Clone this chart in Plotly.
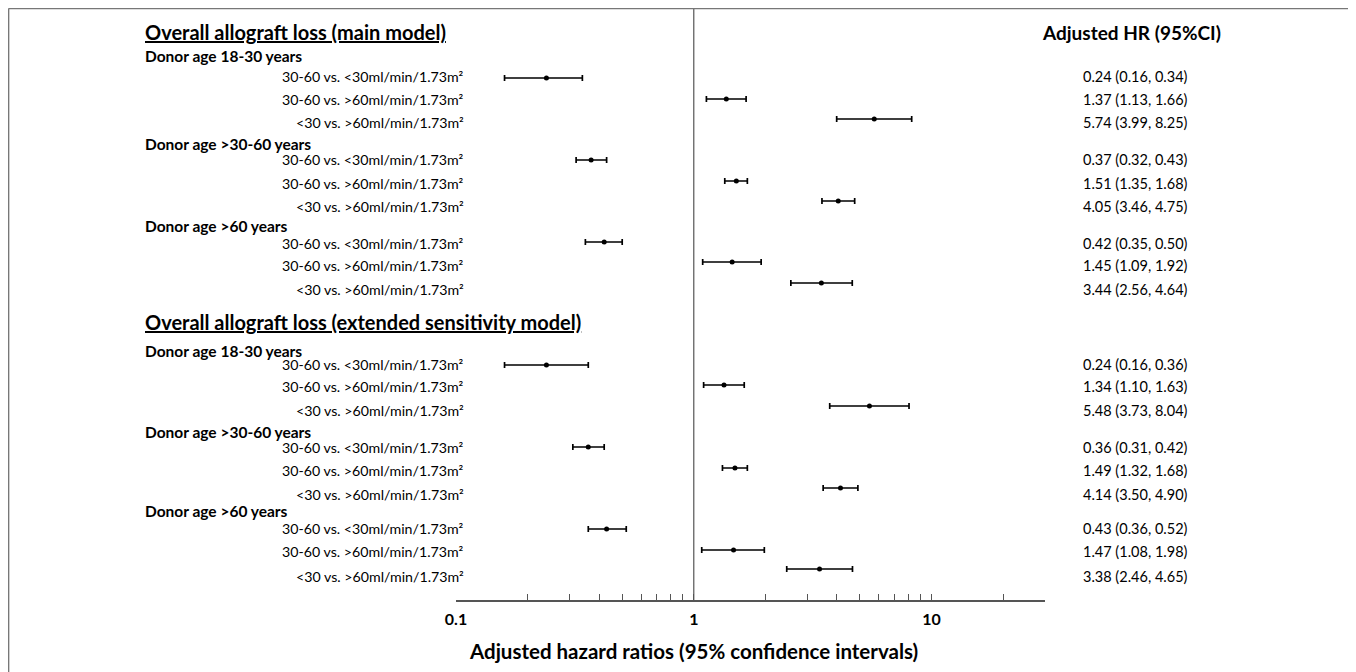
import plotly.graph_objects as go

# ---------------- data ----------------
section_titles = ["Overall allograft loss (main model)",
                  "Overall allograft loss (extended sensitivity model)"]
group_names = ["Donor age 18-30 years", "Donor age >30-60 years", "Donor age >60 years"]
comparisons = ["30-60 vs. <30ml/min/1.73m²",
               "30-60 vs. >60ml/min/1.73m²",
               "<30 vs. >60ml/min/1.73m²"]

main_hr = [0.24, 1.37, 5.74, 0.37, 1.51, 4.05, 0.42, 1.45, 3.44]
main_lo = [0.16, 1.13, 3.99, 0.32, 1.35, 3.46, 0.35, 1.09, 2.56]
main_hi = [0.34, 1.66, 8.25, 0.43, 1.68, 4.75, 0.50, 1.92, 4.64]

ext_hr = [0.24, 1.34, 5.48, 0.36, 1.49, 4.14, 0.43, 1.47, 3.38]
ext_lo = [0.16, 1.10, 3.73, 0.31, 1.32, 3.50, 0.36, 1.08, 2.46]
ext_hi = [0.36, 1.63, 8.04, 0.42, 1.68, 4.90, 0.52, 1.98, 4.65]

tick_values = [0.1, 0.2, 0.3, 0.4, 0.5, 0.6, 0.7, 0.8, 0.9,
               1, 2, 3, 4, 5, 6, 7, 8, 9, 10, 20, 30]
tick_labels = {0.1: "0.1", 1: "1", 10: "10"}
x_title = "Adjusted hazard ratios (95% confidence intervals)"
col_title = "Adjusted HR (95%CI)"

# ---------------- layout (vertical slots, in screen rows of the page) ----------------
marker_y = [78, 99, 119, 160, 181, 201, 242, 262, 283,
            365, 385, 406, 447, 468, 488, 529, 550, 569]
text_y = [76, 99, 122, 159, 183, 206, 243, 265, 289,
          364, 386, 410, 447, 470, 494, 528, 551, 576]
group_y = [56, 144, 226, 351, 432, 511]
header_y = [32, 322]

OFF = 8                      # page body margin
W, H = 1356 - OFF, 672 - OFF
L, R, T, B = 456, 1045, 8, 600   # plot area in page pixels
pw, ph = R - L, B - T


def px(xpix):
    return (xpix - L) / pw


def py(ypix):
    return (B - ypix) / ph


FONT = "Lato"
hr = main_hr + ext_hr
lo = main_lo + ext_lo
hi = main_hi + ext_hi

fig = go.Figure()
fig.add_trace(go.Scatter(
    x=hr, y=marker_y, mode="markers",
    marker=dict(color="black", size=5),
    error_x=dict(type="data", symmetric=False,
                 array=[h - m for h, m in zip(hi, hr)],
                 arrayminus=[m - l for m, l in zip(hr, lo)],
                 color="black", thickness=1.7, width=3),
    showlegend=False, hoverinfo="skip"))

ann = []
for t, yy in zip(section_titles, header_y):
    ann.append(dict(text=f"<b><u>{t}</u></b>", x=px(143), y=yy, xref="paper", yref="y",
                    xanchor="left", yanchor="middle", showarrow=False,
                    font=dict(family=FONT, size=20, color="black")))
ann.append(dict(text=f"<b>{col_title}</b>", x=px(1131), y=header_y[0], xref="paper", yref="y",
                xanchor="center", yanchor="middle", showarrow=False,
                font=dict(family=FONT, size=19, color="black")))
for i, yy in enumerate(group_y):
    ann.append(dict(text=f"<b>{group_names[i % 3]}</b>", x=px(143), y=yy, xref="paper", yref="y",
                    xanchor="left", yanchor="middle", showarrow=False,
                    font=dict(family=FONT, size=15.5, color="black")))
for i, yy in enumerate(text_y):
    ann.append(dict(text=comparisons[i % 3], x=px(466), y=yy, xref="paper", yref="y",
                    xanchor="right", yanchor="middle", showarrow=False,
                    font=dict(family=FONT, size=14.2, color="black")))
    ann.append(dict(text=f"{hr[i]:.2f} ({lo[i]:.2f}, {hi[i]:.2f})", x=px(1135), y=yy,
                    xref="paper", yref="y", xanchor="center", yanchor="middle",
                    showarrow=False, font=dict(family=FONT, size=14.5, color="black")))
ann.append(dict(text=f"<b>{x_title}</b>", x=px(693), y=py(651), xref="paper", yref="paper",
                xanchor="center", yanchor="middle", showarrow=False,
                font=dict(family=FONT, size=20.5, color="black")))

shapes = [
    dict(type="line", xref="x", yref="paper", x0=1, x1=1, y0=0, y1=1,
         line=dict(color="#555555", width=1.2)),
    dict(type="line", xref="paper", yref="paper", x0=px(8.5), x1=px(1353), y0=py(8.6), y1=py(8.6),
         line=dict(color="#777777", width=1.5)),
    dict(type="line", xref="paper", yref="paper", x0=px(8.6), x1=px(8.6), y0=py(8.5), y1=py(690),
         line=dict(color="#777777", width=1.5)),
    dict(type="line", xref="paper", yref="paper", x0=px(1353), x1=px(1353), y0=py(8.5), y1=py(690),
         line=dict(color="#777777", width=1.5)),
]

fig.update_layout(
    width=W, height=H,
    margin=dict(l=L - OFF, r=(W + OFF) - R, t=T - OFF, b=(H + OFF) - B, pad=0),
    paper_bgcolor="white", plot_bgcolor="white",
    annotations=ann, shapes=shapes,
    xaxis=dict(type="log", range=[-1, 1.4771], showgrid=False, zeroline=False,
               showline=True, linecolor="#555555", linewidth=1.5,
               tickmode="array", tickvals=tick_values,
               ticktext=[tick_labels.get(v, "") for v in tick_values],
               ticks="inside", ticklen=6, tickcolor="#555555", tickwidth=1,
               ticklabelstandoff=4,
               tickfont=dict(family=FONT, size=16, color="black", weight="bold")),
    yaxis=dict(range=[B, T], visible=False, showgrid=False, zeroline=False),
)

fig.write_html("out.html")
